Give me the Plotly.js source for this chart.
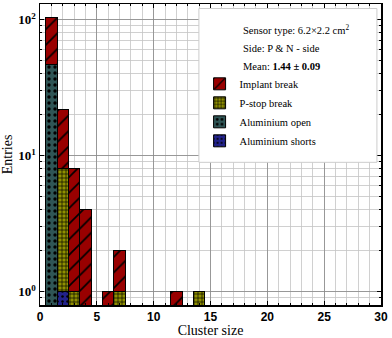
<!DOCTYPE html>
<html>
<head>
<meta charset="utf-8">
<script src="https://cdn.plot.ly/plotly-3.0.1.min.js"></script>
<style>html,body{margin:0;padding:0;background:#fff}#chart{width:392px;height:338px}</style>
</head>
<body>
<div id="chart"></div>
<script>
// Cluster-size bins (centre of each unit-wide bin)
const clusterSize = [1, 2, 3, 4, 5, 6, 7, 8, 9, 10, 11, 12, 13, 14];
// Entries per category (stacked)
const aluminiumShorts = [0, 1, 0, 0, 0, 0, 0, 0, 0, 0, 0, 0, 0, 0];
const aluminiumOpen   = [47, 0, 0, 0, 0, 0, 0, 0, 0, 0, 0, 0, 0, 0];
const pstopBreak      = [0, 7, 1, 0, 0, 0, 1, 0, 0, 0, 0, 0, 0, 1];
const implantBreak    = [57, 14, 7, 4, 0, 1, 1, 0, 0, 0, 0, 1, 0, 0];
const seriesNames = ["Aluminium shorts", "Aluminium open", "P-stop break", "Implant break"];
const xTickVals = [0, 5, 10, 15, 20, 25, 30];
const yTickVals = [1, 10, 100];
const yTickText = ["10<sup>0</sup>", "10<sup>1</sup>", "10<sup>2</sup>"];
const infoLines = ["Sensor type: 6.2×2.2 cm<sup>2</sup>", "Side: P &amp; N - side", "Mean: <b>1.44 ± 0.09</b>"];

const serif = "Liberation Serif, DejaVu Serif, serif";
function mk(y, name, color, shape, size, solidity) {
  return {
    type: "bar", x: clusterSize, y: y, name: name, width: 1,
    marker: {
      color: color,
      line: {color: "#000", width: 1},
      pattern: {shape: shape, fgcolor: "#000", fgopacity: 1, bgcolor: color, fillmode: "overlay", size: size, solidity: solidity}
    },
    hoverinfo: "skip"
  };
}
const data = [
  mk(aluminiumShorts, seriesNames[0], "#22228a", ".", 5, 0.2),
  mk(aluminiumOpen, seriesNames[1], "#2f5555", ".", 6, 0.25),
  mk(pstopBreak, seriesNames[2], "#8f8f00", "+", 4, 0.3),
  mk(implantBreak, seriesNames[3], "#990000", "/", 11, 0.15)
];

const layout = {
  width: 392, height: 338,
  margin: {l: 40, r: 11, t: 3.5, b: 33},
  paper_bgcolor: "#fff", plot_bgcolor: "#fff",
  barmode: "stack", bargap: 0,
  showlegend: true,
  font: {family: serif, color: "#000"},
  xaxis: {
    range: [0, 30], tickvals: xTickVals, ticktext: xTickVals.map(String),
    ticks: "inside", ticklen: 4, tickwidth: 1, tickcolor: "#000",
    showline: true, linecolor: "#000", linewidth: 1.5, mirror: "allticks",
    showgrid: true, gridcolor: "#8a8a8a", gridwidth: 0.8, zeroline: false,
    minor: {dtick: 1, showgrid: true, gridcolor: "#c4c4c4", gridwidth: 0.8, ticks: "inside", ticklen: 2, tickcolor: "#000"},
    tickfont: {family: "Liberation Sans, Arial, sans-serif", size: 12, weight: "bold"},
    title: {text: "Cluster size", font: {family: serif, size: 14}, standoff: 4}
  },
  yaxis: {
    type: "log", range: [-0.098, 2.116], tickvals: yTickVals, ticktext: yTickText,
    ticks: "inside", ticklen: 4, tickwidth: 1, tickcolor: "#000",
    showline: true, linecolor: "#000", linewidth: 1.5, mirror: "allticks",
    showgrid: true, gridcolor: "#8a8a8a", gridwidth: 0.8, zeroline: false,
    minor: {dtick: "D1", showgrid: true, gridcolor: "#c4c4c4", gridwidth: 0.8, ticks: "inside", ticklen: 2, tickcolor: "#000"},
    tickfont: {family: serif, size: 13, weight: "bold"},
    title: {text: "Entries", font: {family: serif, size: 14}, standoff: 2}
  },
  legend: {
    x: 0.468, xanchor: "left", y: 0.783, yanchor: "top",
    bgcolor: "rgba(0,0,0,0)", borderwidth: 0, traceorder: "reversed",
    font: {family: serif, size: 10.5}
  },
  shapes: [{
    type: "rect", xref: "paper", yref: "paper", x0: 0.466, x1: 0.988, y0: 0.474, y1: 0.985,
    fillcolor: "#fff", line: {color: "#cccccc", width: 1}, layer: "above"
  }],
  annotations: infoLines.map((t, i) => ({
    xref: "paper", yref: "paper", x: 0.589, y: [0.915, 0.852, 0.793][i],
    xanchor: "left", yanchor: "middle", showarrow: false, text: t,
    font: {family: serif, size: 10.5}
  }))
};
Plotly.newPlot("chart", data, layout, {staticPlot: true, displayModeBar: false});
</script>
</body>
</html>
